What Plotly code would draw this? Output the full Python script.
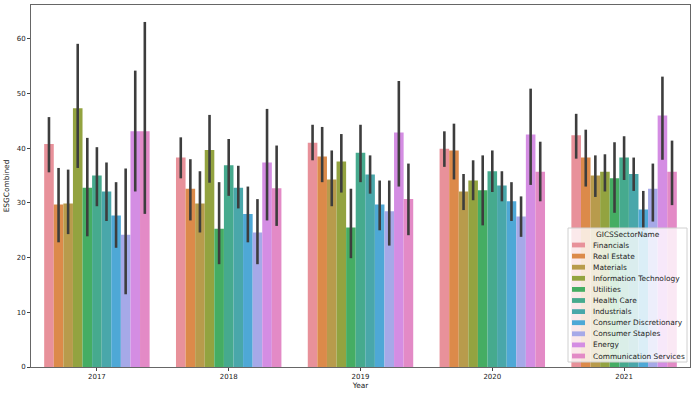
import plotly.graph_objects as go

years = ["2017", "2018", "2019", "2020", "2021"]
sectors = ["Financials", "Real Estate", "Materials", "Information Technology",
           "Utilities", "Health Care", "Industrials", "Consumer Discretionary",
           "Consumer Staples", "Energy", "Communication Services"]
colors = ["#e8919a", "#dc8a4a", "#b89b4c", "#93a340", "#45ad63", "#46aa8e",
          "#49a7aa", "#4ea8d6", "#a6a9e8", "#d48de3", "#e38ac6"]

# mean per sector, one list per year
mean_2017 = [40.8, 29.7, 29.9, 47.3, 32.8, 35.0, 32.1, 27.7, 24.2, 43.1, 43.1]
mean_2018 = [38.3, 32.6, 29.9, 39.7, 25.3, 36.9, 32.8, 28.0, 24.6, 37.4, 32.7]
mean_2019 = [41.0, 38.5, 34.3, 37.6, 25.5, 39.2, 35.2, 29.7, 28.5, 42.9, 30.7]
mean_2020 = [39.9, 39.6, 32.1, 34.1, 32.3, 35.8, 33.2, 30.3, 27.5, 42.5, 35.7]
mean_2021 = [42.4, 38.3, 35.0, 35.7, 34.5, 38.3, 35.3, 28.8, 32.6, 46.0, 35.7]

# confidence interval upper bounds
hi_2017 = [45.7, 36.4, 36.1, 59.1, 41.9, 40.2, 37.4, 33.8, 36.3, 54.2, 63.1]
hi_2018 = [42.0, 38.0, 35.8, 46.1, 33.8, 41.7, 36.8, 33.0, 30.7, 47.2, 40.5]
hi_2019 = [44.3, 43.9, 39.6, 42.6, 32.6, 44.3, 38.7, 34.1, 34.1, 52.3, 37.2]
hi_2020 = [43.1, 44.5, 35.3, 37.8, 38.7, 39.6, 35.8, 33.8, 31.2, 50.9, 41.2]
hi_2021 = [46.3, 43.4, 38.7, 38.9, 41.1, 42.2, 38.3, 32.2, 37.2, 53.1, 41.4]

# confidence interval lower bounds
lo_2017 = [35.6, 22.8, 24.3, 36.4, 23.9, 29.4, 26.7, 21.8, 13.3, 32.1, 28.0]
lo_2018 = [34.5, 26.8, 24.6, 33.7, 18.8, 31.3, 29.0, 22.8, 18.8, 26.8, 25.8]
lo_2019 = [37.8, 33.8, 29.4, 31.9, 19.9, 33.8, 31.7, 25.0, 22.2, 33.0, 24.1]
lo_2020 = [36.6, 34.3, 28.7, 30.5, 25.9, 32.0, 30.3, 26.7, 23.8, 33.3, 30.3]
lo_2021 = [38.1, 33.0, 31.1, 32.1, 28.2, 34.2, 32.2, 25.0, 26.6, 37.9, 29.6]

y_ticks = [0, 10, 20, 30, 40, 50, 60]

means = [mean_2017, mean_2018, mean_2019, mean_2020, mean_2021]
his = [hi_2017, hi_2018, hi_2019, hi_2020, hi_2021]
los = [lo_2017, lo_2018, lo_2019, lo_2020, lo_2021]

fig = go.Figure()
for i, s in enumerate(sectors):
    vals = [m[i] for m in means]
    plus = [h[i] - m[i] for h, m in zip(his, means)]
    minus = [m[i] - l[i] for l, m in zip(los, means)]
    fig.add_trace(go.Bar(
        x=years, y=vals, name=s, marker_color=colors[i], marker_line_width=0,
        error_y=dict(type="data", array=plus, arrayminus=minus, symmetric=False,
                     color="#3d3d3d", thickness=2.6, width=0),
        showlegend=False))

W, H = 695, 396
L, R, T, B = 31, 5, 5, 29
pw, ph = W - L - R, H - T - B

def px(x):
    return (x - L) / pw

def py(y):
    return (H - B - y) / ph

TXT = "#222222"
shapes = []
annotations = []
# legend box
shapes.append(dict(type="rect", xref="paper", yref="paper",
                   x0=px(568), x1=px(687), y0=py(362), y1=py(228),
                   fillcolor="rgba(255,255,255,0.8)", line=dict(color="#d0d0d0", width=1),
                   layer="above"))
annotations.append(dict(xref="paper", yref="paper", x=px(627.5), y=py(234.5),
                        text="GICSSectorName", showarrow=False, xanchor="center",
                        yanchor="middle", font=dict(size=7.4, color=TXT)))
for i, s in enumerate(sectors):
    yc = 245 + i * 11.1
    shapes.append(dict(type="rect", xref="paper", yref="paper",
                       x0=px(572), x1=px(585), y0=py(yc + 2.4), y1=py(yc - 2.4),
                       fillcolor=colors[i], line=dict(width=0), layer="above"))
    annotations.append(dict(xref="paper", yref="paper", x=px(591), y=py(yc),
                            text=s, showarrow=False, xanchor="left", yanchor="middle",
                            font=dict(size=7.4, color=TXT)))

fig.update_layout(
    template="none",
    width=W, height=H,
    margin=dict(l=L, r=R, t=T, b=B, autoexpand=False),
    paper_bgcolor="white", plot_bgcolor="white",
    barmode="group", bargap=0.2, bargroupgap=0,
    font=dict(family="DejaVu Sans", size=7, color=TXT),
    shapes=shapes, annotations=annotations,
    xaxis=dict(type="category", range=[-0.5, 4.5], showline=True, mirror=True,
               linecolor="#666", linewidth=1, ticks="outside", ticklen=3,
               tickcolor="#444", showgrid=False, automargin=False,
               tickfont=dict(size=7, color=TXT),
               title=dict(text="Year", font=dict(size=7.4, color=TXT), standoff=2)),
    yaxis=dict(range=[0, 66.2], tickvals=y_ticks, showline=True, mirror=True,
               linecolor="#666", linewidth=1, ticks="outside", ticklen=3,
               tickcolor="#444", showgrid=False, zeroline=False, automargin=False,
               tickfont=dict(size=7, color=TXT),
               title=dict(text="ESGCombined", font=dict(size=7.4, color=TXT), standoff=6)),
)

fig.write_html("out.html", config={"displayModeBar": False},
               post_script="document.body.style.margin='0';document.body.style.padding='0';")
